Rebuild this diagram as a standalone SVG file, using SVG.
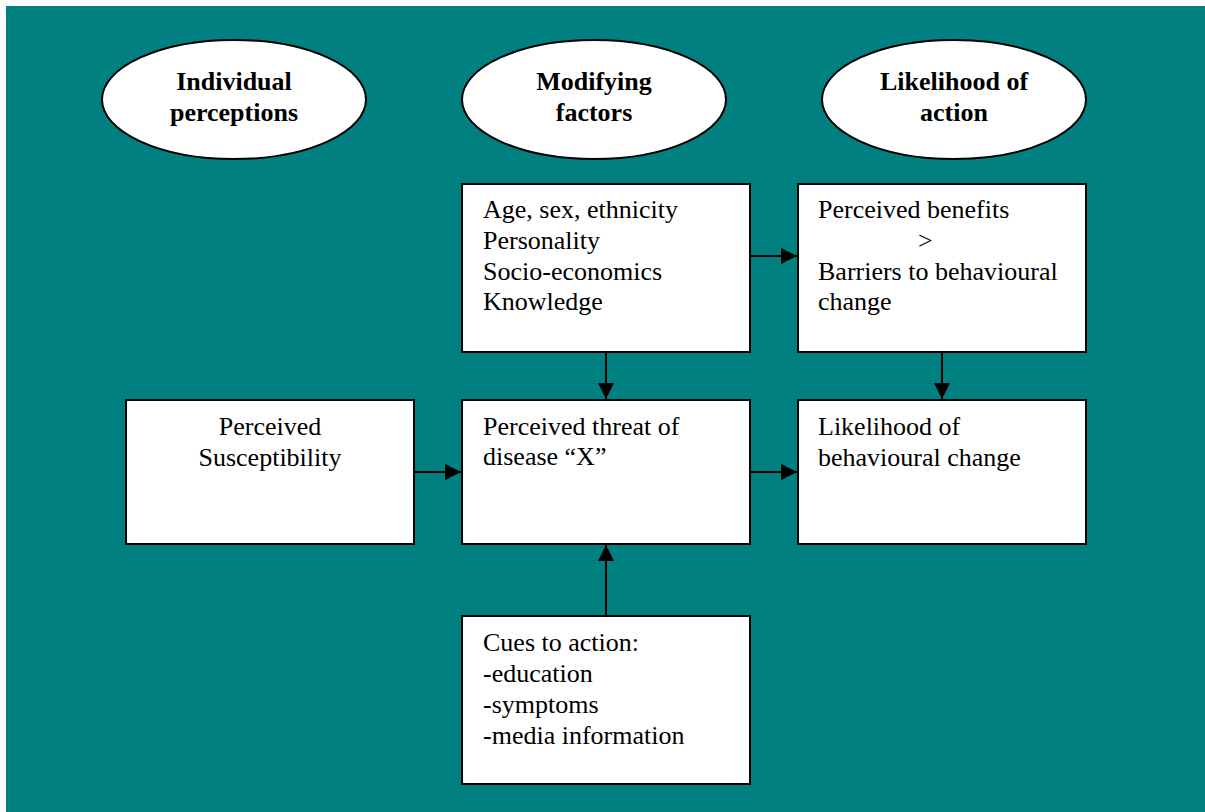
<svg xmlns="http://www.w3.org/2000/svg" width="1205" height="812" viewBox="0 0 1205 812">
<defs>
<style>
.box{fill:#fff;stroke:#000;stroke-width:2}
.ell{fill:#fff;stroke:#000;stroke-width:2}
.t{font-family:"Liberation Serif","Times New Roman",serif;font-size:26px;fill:#000}
.b{font-family:"Liberation Serif","Times New Roman",serif;font-size:26px;font-weight:bold;fill:#000;text-anchor:middle}
.c{text-anchor:middle}
.con{stroke:#000;stroke-width:2;fill:none;marker-end:url(#ah)}
</style>
<marker id="ah" markerUnits="userSpaceOnUse" markerWidth="16" markerHeight="16" viewBox="0 0 16 16" refX="16" refY="8" orient="auto">
<path d="M0,0 L16,8 L0,16 Z" fill="#000"/>
</marker>
</defs>
<rect x="0" y="0" width="1205" height="812" fill="#fff"/>
<rect x="6" y="6" width="1199" height="806" fill="#008080"/>

<g id="ell-individual">
<ellipse class="ell" cx="234" cy="99.5" rx="132" ry="59.5"/>
<text class="b" x="234" y="90">Individual</text>
<text class="b" x="234" y="121">perceptions</text>
</g>
<g id="ell-modifying">
<ellipse class="ell" cx="594" cy="99.5" rx="132" ry="59.5"/>
<text class="b" x="594" y="90">Modifying</text>
<text class="b" x="594" y="121">factors</text>
</g>
<g id="ell-likelihood">
<ellipse class="ell" cx="954" cy="99.5" rx="132" ry="59.5"/>
<text class="b" x="954" y="90">Likelihood of</text>
<text class="b" x="954" y="121">action</text>
</g>

<g id="connectors">
<line class="con" x1="750" y1="256" x2="797" y2="256"/>
<line class="con" x1="606" y1="352" x2="606" y2="399"/>
<line class="con" x1="942" y1="352" x2="942" y2="399"/>
<line class="con" x1="414" y1="472" x2="461" y2="472"/>
<line class="con" x1="750" y1="472" x2="797" y2="472"/>
<line class="con" x1="606" y1="616" x2="606" y2="545"/>
</g>

<g id="box-modifying">
<rect class="box" x="462" y="184" width="288" height="168"/>
<text class="t" x="483" y="218">Age, sex, ethnicity</text>
<text class="t" x="483" y="249">Personality</text>
<text class="t" x="483" y="279.5">Socio-economics</text>
<text class="t" x="483" y="310">Knowledge</text>
</g>
<g id="box-benefits">
<rect class="box" x="798" y="184" width="288" height="168"/>
<text class="t" x="818" y="218">Perceived benefits</text>
<text class="t" x="918" y="249">&gt;</text>
<text class="t" x="818" y="280">Barriers to behavioural</text>
<text class="t" x="818" y="310">change</text>
</g>
<g id="box-susceptibility">
<rect class="box" x="126" y="400" width="288" height="144"/>
<text class="t c" x="270" y="435">Perceived</text>
<text class="t c" x="270" y="466">Susceptibility</text>
</g>
<g id="box-threat">
<rect class="box" x="462" y="400" width="288" height="144"/>
<text class="t" x="483" y="434.5">Perceived threat of</text>
<text class="t" x="483" y="465">disease “X”</text>
</g>
<g id="box-likelihood">
<rect class="box" x="798" y="400" width="288" height="144"/>
<text class="t" x="818" y="435">Likelihood of</text>
<text class="t" x="818" y="466">behavioural change</text>
</g>
<g id="box-cues">
<rect class="box" x="462" y="616" width="288" height="168"/>
<text class="t" x="483" y="651">Cues to action:</text>
<text class="t" x="483" y="682">-education</text>
<text class="t" x="483" y="713">-symptoms</text>
<text class="t" x="483" y="744">-media information</text>
</g>
</svg>
